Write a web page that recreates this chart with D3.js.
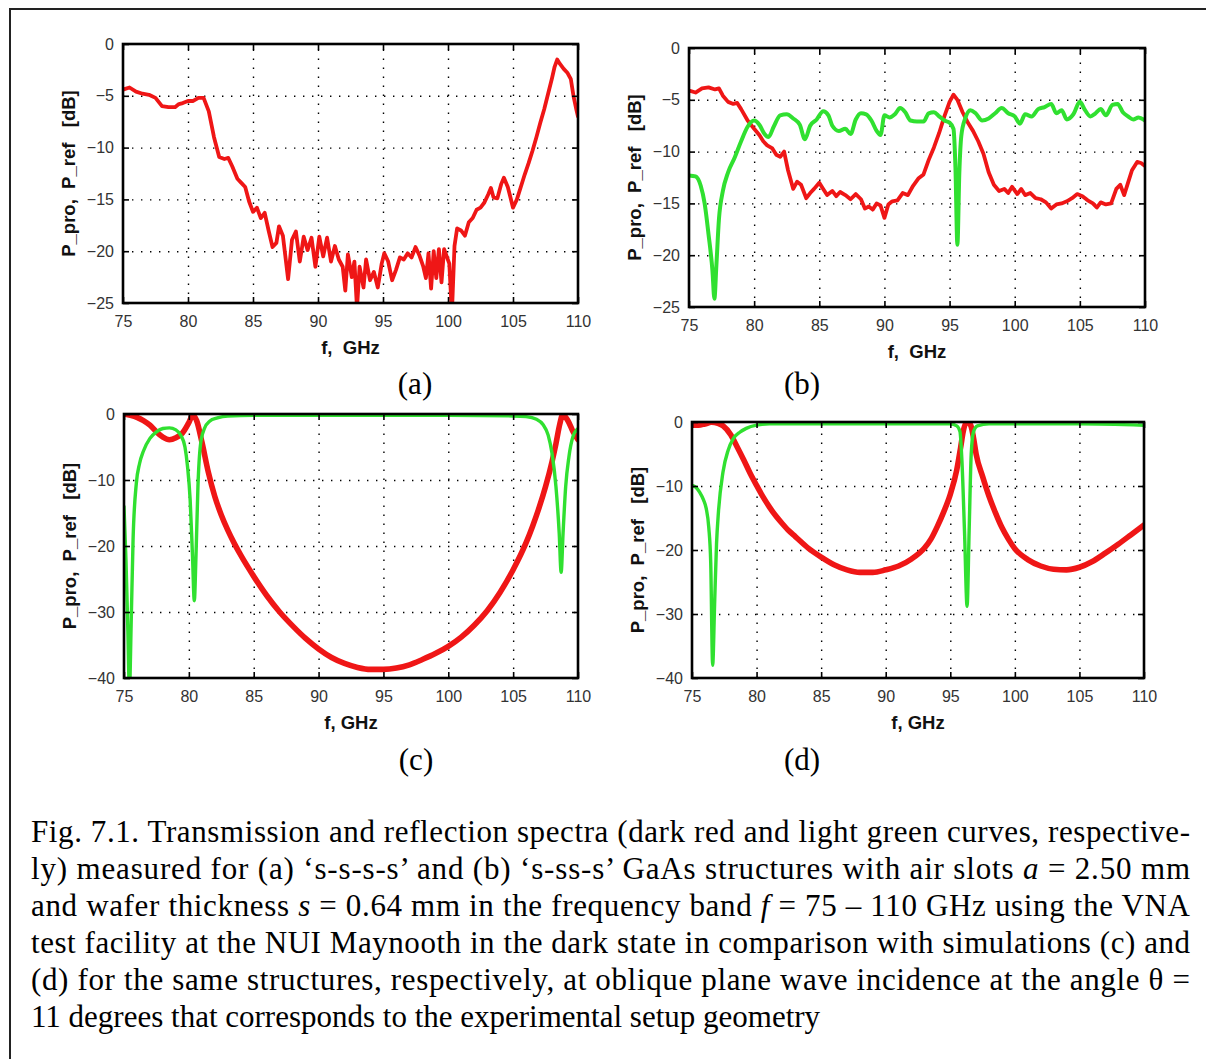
<!DOCTYPE html>
<html lang="en">
<head>
<meta charset="utf-8">
<title>Fig. 7.1 Transmission and reflection spectra</title>
<script src="https://d3js.org/d3.v7.min.js"></script>
<style>
  body { margin: 0; background: #fff; }
  .tick text { font-family: "Liberation Sans", Arial, sans-serif; font-size: 16px; fill: #333; }
  .axlab { font-family: "Liberation Sans", Arial, sans-serif; font-size: 18.5px; font-weight: bold; fill: #111; white-space: pre; }
  .cap, .tag { font-family: "Liberation Serif", "Times New Roman", Times, serif; font-size: 31px; fill: #000; white-space: pre; }
</style>
</head>
<body>
<div id="fig"></div>
<script>
var W = 1206, H = 1059;
var RED = "#ef1616", GREEN = "#30e030";

// tick values
var xTicks = [75, 80, 85, 90, 95, 100, 105, 110];
var yTicksAB = [0, -5, -10, -15, -20, -25];
var yTicksCD = [0, -10, -20, -30, -40];

// (a) measured, s-s-s-s : [GHz, dB]
var redA = [[75,-4.4],[75.5,-4.2],[76,-4.6],[76.5,-4.8],[77,-4.9],[77.5,-5.2],[78,-6.0],[78.5,-6.1],[79,-6.1],[79.3,-5.8],[79.6,-5.7],[80,-5.5],[80.4,-5.5],[80.8,-5.2],[81.2,-5.2],[81.6,-6.5],[82,-9.0],[82.4,-10.9],[82.8,-11.1],[83.1,-11.0],[83.4,-11.8],[83.8,-13.0],[84.1,-13.4],[84.4,-13.8],[84.7,-15.2],[85.0,-16.2],[85.3,-15.8],[85.6,-16.8],[85.9,-16.3],[86.2,-18.0],[86.5,-19.6],[86.8,-19.2],[87.0,-17.6],[87.3,-18.5],[87.7,-22.7],[88.0,-18.9],[88.3,-18.1],[88.6,-21.0],[88.9,-18.6],[89.2,-19.9],[89.5,-18.7],[89.8,-21.5],[90.1,-18.6],[90.4,-20.5],[90.7,-18.7],[91.0,-21.0],[91.3,-19.5],[91.6,-20.8],[91.9,-21.5],[92.1,-23.8],[92.3,-20.3],[92.6,-22.5],[92.8,-21.0],[93.0,-25.5],[93.2,-21.5],[93.5,-23.5],[93.7,-20.8],[94.0,-22.8],[94.3,-22.0],[94.6,-23.5],[94.9,-21.2],[95.1,-20.2],[95.4,-21.0],[95.7,-22.8],[96.0,-21.8],[96.3,-20.6],[96.6,-20.8],[96.9,-20.2],[97.2,-20.6],[97.5,-19.6],[97.8,-20.4],[98.1,-21.5],[98.3,-22.6],[98.5,-20.2],[98.7,-23.6],[98.9,-20.0],[99.1,-22.6],[99.3,-19.8],[99.5,-23.0],[99.7,-19.8],[99.9,-20.5],[100.1,-21.2],[100.3,-26.0],[100.5,-19.5],[100.7,-17.8],[101.0,-18.0],[101.3,-18.5],[101.6,-17.2],[101.9,-16.8],[102.2,-16.0],[102.5,-15.8],[102.8,-15.3],[103.1,-14.5],[103.3,-13.9],[103.5,-14.8],[103.8,-14.9],[104.1,-13.5],[104.3,-12.9],[104.6,-13.8],[104.8,-14.8],[105.0,-15.8],[105.3,-15.0],[105.6,-13.8],[105.9,-12.6],[106.2,-11.5],[106.5,-10.3],[106.8,-9.0],[107.1,-7.6],[107.4,-6.3],[107.7,-4.8],[108.0,-3.3],[108.2,-2.2],[108.4,-1.5],[108.6,-1.9],[108.9,-2.4],[109.2,-2.8],[109.45,-3.4],[109.65,-5.0],[109.85,-6.2],[110,-7.0]];

// (b) measured, s-ss-s
var redB = [[75,-4.1],[75.5,-4.3],[76,-3.9],[76.5,-3.8],[77,-4.0],[77.3,-3.9],[77.6,-4.6],[78,-5.2],[78.4,-5.4],[78.7,-5.3],[79,-5.9],[79.5,-7.0],[80,-7.8],[80.4,-8.4],[80.7,-9.0],[81,-9.4],[81.4,-9.7],[81.7,-10.3],[82,-10.5],[82.3,-10.0],[82.6,-11.8],[83,-13.6],[83.3,-12.9],[83.6,-13.2],[84,-14.5],[84.3,-14.0],[84.6,-13.6],[85,-13.0],[85.3,-13.6],[85.6,-14.2],[86,-13.8],[86.3,-14.3],[86.6,-13.9],[87,-14.2],[87.4,-14.6],[87.8,-14.1],[88.2,-14.6],[88.5,-15.5],[88.8,-15.3],[89.1,-15.6],[89.4,-15.0],[89.7,-15.2],[90,-16.4],[90.3,-15.1],[90.6,-14.8],[91,-14.7],[91.4,-14.0],[91.8,-14.2],[92.2,-13.3],[92.6,-12.6],[93,-12.2],[93.4,-10.8],[93.8,-9.6],[94.2,-8.2],[94.6,-6.6],[95,-5.2],[95.3,-4.5],[95.6,-5.0],[96,-6.2],[96.4,-7.2],[96.8,-8.0],[97.2,-9.0],[97.6,-10.2],[98,-12.0],[98.4,-13.2],[98.8,-13.8],[99.2,-13.6],[99.5,-14.0],[99.8,-13.4],[100.2,-14.1],[100.5,-13.6],[100.8,-14.2],[101.2,-14.0],[101.6,-14.5],[102,-14.6],[102.4,-14.9],[102.8,-15.5],[103.2,-15.1],[103.6,-15.0],[104,-14.8],[104.4,-14.5],[104.8,-14.1],[105.2,-14.3],[105.6,-14.7],[106,-15.0],[106.3,-15.4],[106.6,-14.9],[107,-15.1],[107.4,-15.0],[107.8,-13.6],[108.1,-13.2],[108.4,-14.2],[108.7,-13.0],[109,-11.8],[109.4,-11.0],[109.7,-11.1],[110,-11.4]];
var greenB = [[75,-12.3],[75.5,-12.4],[75.9,-13.3],[76.2,-15.0],[76.5,-18.0],[76.8,-21.5],[76.95,-24.2],[77.1,-21.0],[77.3,-16.5],[77.6,-13.8],[78,-12.0],[78.5,-10.6],[79,-9.0],[79.5,-7.6],[80,-7.0],[80.4,-7.4],[80.8,-8.3],[81.1,-8.6],[81.5,-7.6],[82,-6.5],[82.5,-6.4],[83,-6.8],[83.5,-7.4],[83.9,-8.8],[84.3,-7.5],[84.8,-6.9],[85.3,-6.1],[85.7,-6.5],[86,-7.5],[86.5,-8.0],[87,-7.8],[87.4,-8.3],[87.8,-6.9],[88.2,-6.3],[88.6,-6.4],[89,-7.0],[89.4,-8.0],[89.7,-8.4],[90,-6.5],[90.4,-6.7],[90.8,-6.4],[91.2,-5.8],[91.6,-6.2],[92,-7.0],[92.5,-7.1],[93,-7.1],[93.4,-6.3],[93.8,-6.2],[94.2,-6.6],[94.6,-7.0],[95,-7.2],[95.3,-7.8],[95.45,-11.5],[95.6,-19.0],[95.75,-12.0],[95.9,-8.5],[96.2,-6.8],[96.6,-6.0],[97,-6.3],[97.5,-7.0],[98,-6.8],[98.5,-6.3],[99,-5.8],[99.5,-6.3],[100,-6.6],[100.4,-7.3],[100.8,-6.4],[101.3,-6.6],[101.8,-5.9],[102.3,-5.7],[102.8,-5.4],[103.2,-6.3],[103.6,-6.0],[104,-6.9],[104.5,-6.4],[105,-5.2],[105.4,-6.0],[105.8,-6.6],[106.2,-6.3],[106.6,-5.9],[107,-6.5],[107.5,-5.5],[107.9,-5.4],[108.3,-6.2],[108.7,-6.6],[109.1,-6.9],[109.5,-6.7],[110,-7.0]];

// (c) simulated, s-s-s-s
var redC = [[75,0],[75.5,-0.2],[76,-0.5],[76.5,-1.0],[77,-1.7],[77.5,-2.7],[78,-3.5],[78.5,-3.9],[79,-3.6],[79.5,-2.9],[80,-1.3],[80.3,-0.2],[80.6,-1.0],[81,-4.2],[81.5,-8.8],[82,-12.5],[82.5,-15.3],[83,-17.6],[83.5,-19.6],[84,-21.4],[85,-24.6],[86,-27.5],[87,-30.0],[88,-32.1],[89,-34.0],[90,-35.6],[91,-36.9],[92,-37.8],[93,-38.4],[94,-38.7],[95,-38.7],[96,-38.5],[97,-38.0],[98,-37.2],[99,-36.3],[100,-35.2],[101,-33.8],[102,-32.0],[103,-29.8],[104,-27.0],[105,-23.6],[106,-19.5],[106.5,-17.0],[107,-14.2],[107.5,-11.0],[108,-7.2],[108.3,-4.5],[108.6,-1.5],[108.8,-0.2],[109,-0.4],[109.3,-1.3],[109.6,-2.6],[110,-3.9]];
var greenC = [[75,-14],[75.15,-22],[75.3,-33],[75.42,-42],[75.55,-32],[75.7,-19],[75.95,-10.5],[76.2,-7.5],[76.5,-5.6],[77,-3.7],[77.5,-2.7],[78,-2.2],[78.5,-2.1],[79,-2.4],[79.4,-3.3],[79.7,-5.0],[79.9,-8.0],[80.1,-13.0],[80.28,-21.5],[80.42,-28.3],[80.55,-21.5],[80.7,-11.0],[80.9,-4.6],[81.2,-2.2],[81.6,-1.1],[82.2,-0.6],[83,-0.3],[85,-0.2],[90,-0.2],[95,-0.2],[100,-0.2],[105,-0.3],[106,-0.4],[106.8,-0.8],[107.3,-1.6],[107.7,-3.2],[108,-6.0],[108.3,-11.0],[108.55,-18.0],[108.7,-24.0],[108.85,-18.0],[109.05,-11.0],[109.3,-6.5],[109.6,-3.5],[110,-2.2]];

// (d) simulated, s-ss-s
var redD = [[75,-0.5],[75.5,-0.5],[76,-0.3],[76.5,-0.05],[77,-0.2],[77.4,-0.6],[78,-2.0],[78.5,-3.9],[79,-5.9],[79.5,-8.0],[80,-9.9],[80.5,-11.7],[81,-13.3],[81.5,-14.7],[82,-15.9],[82.5,-17.0],[83,-17.9],[84,-19.7],[85,-21.1],[86,-22.3],[87,-23.1],[88,-23.5],[89,-23.5],[90,-23.1],[91,-22.5],[92,-21.4],[93,-19.7],[93.5,-18.3],[94,-16.3],[94.5,-14.0],[95,-11.3],[95.5,-7.5],[95.8,-4.0],[96.0,-1.5],[96.2,-0.2],[96.4,-0.1],[96.6,-0.6],[96.8,-2.5],[97,-5.0],[97.5,-8.5],[98,-11.6],[98.5,-14.2],[99,-16.5],[99.5,-18.3],[100,-19.8],[101,-21.5],[102,-22.5],[103,-23.0],[104,-23.1],[105,-22.7],[106,-21.8],[107,-20.5],[108,-19.1],[109,-17.6],[110,-16.1]];
var greenD = [[75,-9.9],[75.3,-10.2],[75.6,-11.0],[75.9,-12.2],[76.1,-13.5],[76.3,-16.5],[76.45,-22],[76.6,-38],[76.75,-28.5],[76.9,-19],[77.05,-14],[77.4,-7.8],[77.8,-4.4],[78.2,-2.6],[78.7,-1.6],[79.2,-1.0],[80,-0.5],[81,-0.3],[85,-0.3],[90,-0.3],[95,-0.3],[95.5,-0.6],[95.75,-1.5],[95.9,-6],[96.1,-17],[96.3,-28.8],[96.46,-17],[96.62,-5],[96.8,-1.5],[97.1,-0.6],[98,-0.3],[105,-0.3],[110,-0.5]];

var captionLines = [
  "Fig. 7.1. Transmission and reflection spectra (dark red and light green curves, respective-",
  "ly) measured for (a) \u2018s-s-s-s\u2019 and (b) \u2018s-ss-s\u2019 GaAs structures with air slots *a* = 2.50 mm",
  "and wafer thickness *s* = 0.64 mm in the frequency band *f* = 75 \u2013 110 GHz using the VNA",
  "test facility at the NUI Maynooth in the dark state in comparison with simulations (c) and",
  "(d) for the same structures, respectively, at oblique plane wave incidence at the angle \u03b8 =",
  "11 degrees that corresponds to the experimental setup geometry"
];

// layout
var panels = [
  {box:[123, 44, 578, 303], yDom:[-25,0], yTicks:yTicksAB, xLab:"f,  GHz", tag:"(a)", tagX:415, tagY:394,
   series:[{d:redA, c:RED, w:3.8, curve:d3.curveLinear}]},
  {box:[689, 48, 1145, 307], yDom:[-25,0], yTicks:yTicksAB, xLab:"f,  GHz", tag:"(b)", tagX:802, tagY:394,
   series:[{d:redB, c:RED, w:3.8, curve:d3.curveLinear}, {d:greenB, c:GREEN, w:4, curve:d3.curveMonotoneX}]},
  {box:[124, 414, 578, 678], yDom:[-40,0], yTicks:yTicksCD, xLab:"f, GHz", tag:"(c)", tagX:416, tagY:770,
   series:[{d:redC, c:RED, w:5.6, curve:d3.curveMonotoneX}, {d:greenC, c:GREEN, w:3.4, curve:d3.curveMonotoneX}]},
  {box:[692, 422, 1144, 678], yDom:[-40,0], yTicks:yTicksCD, xLab:"f, GHz", tag:"(d)", tagX:802, tagY:770,
   series:[{d:redD, c:RED, w:5.6, curve:d3.curveMonotoneX}, {d:greenD, c:GREEN, w:3.4, curve:d3.curveMonotoneX}]}
];

var svg = d3.select("#fig").append("svg")
  .attr("width", W).attr("height", H)
  .style("display", "block");

svg.append("rect").attr("width", W).attr("height", H).attr("fill", "#fff");

// page frame (top and left rule)
svg.append("path")
  .attr("d", "M10," + H + "V9H" + W)
  .attr("fill", "none").attr("stroke", "#222").attr("stroke-width", 2);

panels.forEach(drawPanel);
drawCaption();

function drawPanel(p, i){
  var x0 = p.box[0], y0 = p.box[1], x1 = p.box[2], y1 = p.box[3];
  var w = x1 - x0, h = y1 - y0;
  var x = d3.scaleLinear().domain([75, 110]).range([x0, x1]);
  var y = d3.scaleLinear().domain(p.yDom).range([y1, y0]);
  var g = svg.append("g");

  // dotted grid at the inner ticks
  var gx = g.append("g").attr("transform", "translate(0," + y1 + ")")
    .call(d3.axisBottom(x).tickValues(xTicks.slice(1, -1)).tickSize(-h).tickFormat(""));
  var gy = g.append("g").attr("transform", "translate(" + x0 + ",0)")
    .call(d3.axisLeft(y).tickValues(p.yTicks.slice(1, -1)).tickSize(-w).tickFormat(""));
  [gx, gy].forEach(function(s){
    s.select(".domain").remove();
    s.selectAll(".tick line").attr("stroke", "#000").attr("stroke-width", 1.4)
      .attr("stroke-dasharray", "1.4,7.6");
  });

  // curves
  g.append("clipPath").attr("id", "clip" + i)
    .append("rect").attr("x", x0).attr("y", y0).attr("width", w).attr("height", h);
  var line = d3.line().x(function(d){ return x(d[0]); }).y(function(d){ return y(d[1]); });
  p.series.forEach(function(s){
    g.append("path")
      .datum(s.d)
      .attr("clip-path", "url(#clip" + i + ")")
      .attr("fill", "none")
      .attr("stroke", s.c)
      .attr("stroke-width", s.w)
      .attr("stroke-linejoin", "round")
      .attr("stroke-linecap", "round")
      .attr("d", line.curve(s.curve));
  });

  // axes: inward ticks on all four sides, labels bottom and left
  var fmt = d3.format("d");
  var axes = [
    g.append("g").attr("transform", "translate(0," + y1 + ")")
      .call(d3.axisBottom(x).tickValues(xTicks).tickSizeInner(-6).tickSizeOuter(0).tickPadding(13).tickFormat(fmt)),
    g.append("g").attr("transform", "translate(0," + y0 + ")")
      .call(d3.axisTop(x).tickValues(xTicks).tickSizeInner(-6).tickSizeOuter(0).tickFormat("")),
    g.append("g").attr("transform", "translate(" + x0 + ",0)")
      .call(d3.axisLeft(y).tickValues(p.yTicks).tickSizeInner(-6).tickSizeOuter(0).tickPadding(9).tickFormat(fmt)),
    g.append("g").attr("transform", "translate(" + x1 + ",0)")
      .call(d3.axisRight(y).tickValues(p.yTicks).tickSizeInner(-6).tickSizeOuter(0).tickFormat(""))
  ];
  axes.forEach(function(a){
    a.select(".domain").remove();
    a.selectAll(".tick line").attr("stroke", "#000").attr("stroke-width", 1.6);
    a.attr("font-family", null).attr("font-size", null);
  });

  // frame
  g.append("rect").attr("x", x0).attr("y", y0).attr("width", w).attr("height", h)
    .attr("fill", "none").attr("stroke", "#000").attr("stroke-width", 2.6);

  // axis titles
  g.append("text").attr("class", "axlab")
    .attr("x", (x0 + x1) / 2).attr("y", y1 + 51)
    .attr("text-anchor", "middle").text(p.xLab);
  g.append("text").attr("class", "axlab")
    .attr("transform", "translate(" + (x0 - 48) + "," + ((y0 + y1) / 2) + ") rotate(-90)")
    .attr("text-anchor", "middle").text("P_pro,  P_ref   [dB]");

  // panel tag
  svg.append("text").attr("class", "tag")
    .attr("x", p.tagX).attr("y", p.tagY).attr("text-anchor", "middle").text(p.tag);
}

function drawCaption(){
  var left = 31, right = 1190, top = 842, dy = 36.9;
  captionLines.forEach(function(line, i){
    var t = svg.append("text").attr("class", "cap")
      .attr("x", left).attr("y", top + i * dy);
    // justified block: every line but the last is stretched to the full width
    if (i < captionLines.length - 1) {
      t.attr("textLength", right - left).attr("lengthAdjust", "spacing");
    }
    line.split("*").forEach(function(seg, k){
      t.append("tspan").attr("font-style", k % 2 ? "italic" : null).text(seg);
    });
  });
}
</script>
</body>
</html>
